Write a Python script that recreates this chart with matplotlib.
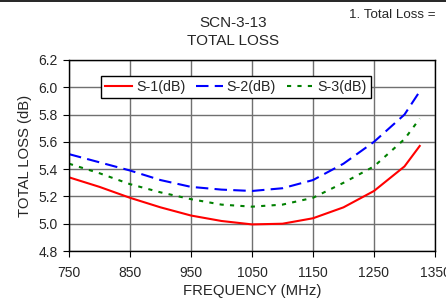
import matplotlib
matplotlib.use("Agg")
import matplotlib.pyplot as plt
from matplotlib.lines import Line2D

plt.rcParams['font.family'] = ['Liberation Sans', 'DejaVu Sans']

freq = [750, 800, 850, 900, 950, 1000, 1050, 1100, 1150, 1200, 1250, 1300, 1325]
s1 = [5.34, 5.27, 5.19, 5.12, 5.06, 5.02, 4.995, 5.00, 5.04, 5.12, 5.24, 5.42, 5.57]
s2 = [5.51, 5.45, 5.39, 5.32, 5.27, 5.25, 5.24, 5.26, 5.32, 5.44, 5.60, 5.80, 5.97]
s3 = [5.44, 5.37, 5.29, 5.23, 5.18, 5.14, 5.125, 5.14, 5.19, 5.30, 5.42, 5.62, 5.77]
xticks = [750, 850, 950, 1050, 1150, 1250, 1350]
yticks = [4.8, 5.0, 5.2, 5.4, 5.6, 5.8, 6.0, 6.2]

txt = '#262626'
fig = plt.figure(figsize=(4.46, 3.03), dpi=100)
ax = fig.add_axes([0.1547, 0.1716, 0.8206, 0.6304])

ax.plot(freq, s1, color='#ff0000', lw=1.5, label='S-1(dB)')
ax.plot(freq, s2, color='#0000ff', lw=1.5, dashes=(6, 3), label='S-2(dB)')
ax.plot(freq, s3, color='#008000', lw=1.5, dashes=(2, 3), label='S-3(dB)')

ax.set_xlim(750, 1350)
ax.set_ylim(4.8, 6.2)
ax.set_xticks(xticks)
ax.set_yticks(yticks)
ax.set_yticklabels([f"{v:.1f}" for v in yticks])
ax.grid(True, color='#707070', lw=1)
ax.set_axisbelow(True)
for s in ax.spines.values():
    s.set_color('black')
    s.set_linewidth(1)
ax.tick_params(axis='both', labelsize=10, length=4, color='black', colors=txt, direction='out')
ax.tick_params(axis='x', pad=7)
ax.tick_params(axis='y', pad=4)
ax.set_xlabel('FREQUENCY (MHz)', fontsize=10.7, color=txt, labelpad=3)
ax.set_ylabel('TOTAL LOSS (dB)', fontsize=10.7, color=txt, labelpad=5)

leg = ax.legend(loc='upper left', bbox_to_anchor=(0.087, 0.918), ncol=3, frameon=True,
                fancybox=False, edgecolor='black', framealpha=1, fontsize=10.3,
                handlelength=1.9, handletextpad=0.25, columnspacing=0.75,
                borderpad=0.3, borderaxespad=0)
leg.get_frame().set_linewidth(1)
for t in leg.get_texts():
    t.set_color(txt)

fig.text(0.522, 0.924, 'SCN-3-13', ha='center', va='center', fontsize=11, color=txt)
fig.text(0.522, 0.864, 'TOTAL LOSS', ha='center', va='center', fontsize=11, color=txt)
fig.text(0.782, 0.950, '1. Total Loss =', ha='left', va='center', fontsize=9.6, color=txt)
fig.add_artist(Line2D([0, 1], [0.997, 0.997], color='black', lw=1.2, transform=fig.transFigure))

fig.savefig('out.png', dpi=100)
